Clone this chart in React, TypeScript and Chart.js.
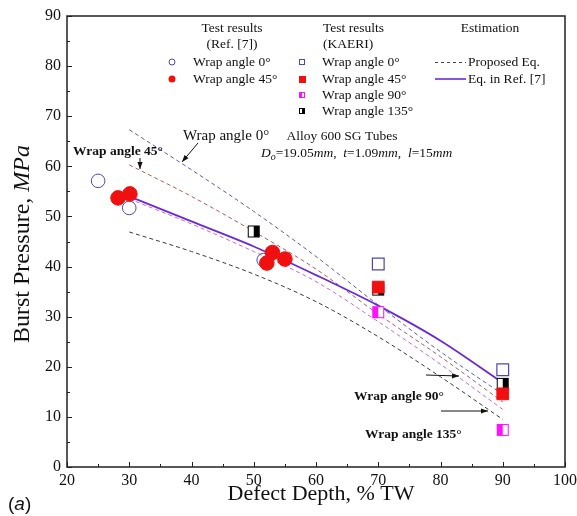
import { useEffect, useRef } from 'react';
import { Chart, registerables } from 'chart.js';

Chart.register(...registerables);

const SERIF = '"Liberation Serif", "Times New Roman", serif';
const SANS = '"Liberation Sans", Arial, sans-serif';

// Test results, Ref. [7]
const refDepth0 = [25, 30, 51.6];
const refBurst0 = [57.1, 51.7, 41.3];
const refDepth45 = [28.2, 30.1, 52.1, 53.0, 55.0];
const refBurst45 = [53.7, 54.5, 40.7, 42.8, 41.5];

// Test results, KAERI
const kaeriDepth0 = [70, 90];
const kaeriBurst0 = [40.5, 19.4];
const kaeriDepth45 = [70, 90];
const kaeriBurst45 = [35.9, 14.6];
const kaeriDepth90 = [70, 90];
const kaeriBurst90 = [30.9, 7.4];
const kaeriDepth135 = [50, 70, 90];
const kaeriBurst135 = [47.0, 35.4, 16.6];

// Estimation curves
const curveDepth = [30, 40, 50, 60, 70, 80, 90];
const eqRef7 = [54.0, 49.0, 44.0, 38.3, 32.2, 25.2, 16.8];
const proposed0 = [67.3, 59.3, 51.0, 42.0, 32.3, 23.0, 14.5];
const proposed45 = [60.3, 54.0, 47.0, 39.5, 30.5, 22.0, 13.0];
const proposed90 = [53.5, 48.5, 43.0, 37.0, 29.0, 20.5, 11.5];
const proposed135 = [46.9, 43.0, 38.5, 33.0, 26.0, 18.0, 9.5];

// Axis ranges
const xRange = [20, 100];
const yRange = [0, 90];

const BLUE = '#4f47b0';
const RED = '#f01010';
const MAGENTA = '#ff10ff';
const PURPLE = '#6a2ad8';

const pts = (xs: number[], ys: number[]) => xs.map((x, i) => ({ x, y: ys[i] }));

function halfSquare(color: string, filled: 'left' | 'right', side = 12) {
  const c = document.createElement('canvas');
  c.width = side + 2;
  c.height = side + 2;
  const g = c.getContext('2d')!;
  g.fillStyle = '#fff';
  g.fillRect(1, 1, side, side);
  g.fillStyle = color;
  const half = side / 2;
  g.fillRect(filled === 'left' ? 1 : 1 + half, 1, half, side);
  g.strokeStyle = color;
  g.lineWidth = 1;
  g.strokeRect(1.5, 1.5, side - 1, side - 1);
  return c;
}

type Run = [string, string, number?];

function drawRuns(ctx: CanvasRenderingContext2D, runs: Run[], x: number, y: number, align: 'left' | 'center' = 'left') {
  ctx.textAlign = 'left';
  let total = 0;
  runs.forEach((r) => {
    ctx.font = r[1];
    total += ctx.measureText(r[0]).width;
  });
  let cx = align === 'center' ? x - total / 2 : x;
  runs.forEach((r) => {
    ctx.font = r[1];
    ctx.fillText(r[0], cx, y + (r[2] || 0));
    cx += ctx.measureText(r[0]).width;
  });
}

function arrow(ctx: CanvasRenderingContext2D, x1: number, y1: number, x2: number, y2: number) {
  ctx.beginPath();
  ctx.moveTo(x1, y1);
  ctx.lineTo(x2, y2);
  ctx.stroke();
  const ang = Math.atan2(y2 - y1, x2 - x1);
  const L = 7;
  const W = 2.6;
  ctx.beginPath();
  ctx.moveTo(x2, y2);
  ctx.lineTo(x2 - L * Math.cos(ang) + W * Math.sin(ang), y2 - L * Math.sin(ang) - W * Math.cos(ang));
  ctx.lineTo(x2 - L * Math.cos(ang) - W * Math.sin(ang), y2 - L * Math.sin(ang) + W * Math.cos(ang));
  ctx.closePath();
  ctx.fill();
}

export default function App() {
  const ref = useRef<HTMLCanvasElement | null>(null);

  useEffect(() => {
    if (!ref.current) return;
    const mag = halfSquare(MAGENTA, 'left');
    const blk = halfSquare('#000', 'right');
    const magSmall = halfSquare(MAGENTA, 'left', 6);
    const blkSmall = halfSquare('#000', 'right', 6);

    const curve = (ys: number[], color: string, dashed: boolean, order: number) => ({
      data: pts(curveDepth, ys),
      showLine: true,
      borderColor: color,
      borderWidth: dashed ? 1 : 1.8,
      borderDash: dashed ? [4, 3] : [],
      pointRadius: 0,
      cubicInterpolationMode: 'monotone' as const,
      order,
    });

    const overlay = {
      id: 'overlay',
      afterDraw(chart: any) {
        const { ctx, chartArea: a, scales } = chart;
        const xs = scales.x;
        const ys = scales.y;
        ctx.save();
        // frame
        ctx.strokeStyle = '#222';
        ctx.lineWidth = 1.5;
        ctx.strokeRect(a.left, a.top, a.right - a.left, a.bottom - a.top);
        // inward tick marks
        ctx.lineWidth = 1;
        ctx.beginPath();
        for (let v = xRange[0]; v <= xRange[1]; v += 5) {
          const px = Math.round(xs.getPixelForValue(v)) + 0.5;
          const len = v % 10 === 0 ? 5 : 3;
          ctx.moveTo(px, a.bottom);
          ctx.lineTo(px, a.bottom - len);
        }
        for (let v = yRange[0]; v <= yRange[1]; v += 5) {
          const py = Math.round(ys.getPixelForValue(v)) + 0.5;
          const len = v % 10 === 0 ? 5 : 3;
          ctx.moveTo(a.left, py);
          ctx.lineTo(a.left + len, py);
        }
        ctx.stroke();

        ctx.fillStyle = '#111';
        ctx.textBaseline = 'middle';

        // axis titles
        drawRuns(ctx, [['Defect Depth, % TW', `22px ${SERIF}`]], 321, 494, 'center');
        ctx.save();
        ctx.translate(23, 244);
        ctx.rotate(-Math.PI / 2);
        drawRuns(ctx, [['Burst Pressure, ', `24px ${SERIF}`], ['MPa', `italic 24px ${SERIF}`]], 0, 0, 'center');
        ctx.restore();

        drawRuns(ctx, [['(', `19px ${SANS}`], ['a', `italic 19px ${SANS}`], [')', `19px ${SANS}`]], 8, 505);

        // legend
        const lf = `13.5px ${SERIF}`;
        drawRuns(ctx, [['Test results', lf]], 232, 28, 'center');
        drawRuns(ctx, [['(Ref. [7])', lf]], 232, 44, 'center');
        drawRuns(ctx, [['Test results', lf]], 323, 28);
        drawRuns(ctx, [['(KAERI)', lf]], 323, 44);
        drawRuns(ctx, [['Estimation', lf]], 490, 28, 'center');

        const rows = [62, 79, 95, 111];
        drawRuns(ctx, [['Wrap angle 0°', lf]], 193, rows[0]);
        drawRuns(ctx, [['Wrap angle 45°', lf]], 193, rows[1]);
        drawRuns(ctx, [['Wrap angle 0°', lf]], 322, rows[0]);
        drawRuns(ctx, [['Wrap angle 45°', lf]], 322, rows[1]);
        drawRuns(ctx, [['Wrap angle 90°', lf]], 322, rows[2]);
        drawRuns(ctx, [['Wrap angle 135°', lf]], 322, rows[3]);
        drawRuns(ctx, [['Proposed Eq.', lf]], 468, rows[0]);
        drawRuns(ctx, [['Eq. in Ref. [7]', lf]], 468, rows[1]);

        ctx.strokeStyle = BLUE;
        ctx.lineWidth = 1;
        ctx.beginPath();
        ctx.arc(172, rows[0], 3, 0, Math.PI * 2);
        ctx.stroke();
        ctx.fillStyle = RED;
        ctx.beginPath();
        ctx.arc(172, rows[1], 3.5, 0, Math.PI * 2);
        ctx.fill();

        ctx.fillStyle = '#fff';
        ctx.fillRect(299, rows[0] - 3, 6, 6);
        ctx.strokeStyle = BLUE;
        ctx.strokeRect(299.5, rows[0] - 2.5, 5, 5);
        ctx.fillStyle = RED;
        ctx.fillRect(299, rows[1] - 3, 7, 7);
        ctx.drawImage(magSmall, 298, rows[2] - 4);
        ctx.drawImage(blkSmall, 298, rows[3] - 4);

        ctx.strokeStyle = '#444';
        ctx.lineWidth = 1;
        ctx.setLineDash([3, 3]);
        ctx.beginPath();
        ctx.moveTo(435, rows[0] + 0.5);
        ctx.lineTo(466, rows[0] + 0.5);
        ctx.stroke();
        ctx.setLineDash([]);
        ctx.strokeStyle = PURPLE;
        ctx.lineWidth = 1.6;
        ctx.beginPath();
        ctx.moveTo(435, rows[1]);
        ctx.lineTo(466, rows[1]);
        ctx.stroke();

        // curve annotations
        ctx.fillStyle = '#111';
        ctx.strokeStyle = '#111';
        ctx.lineWidth = 1;
        drawRuns(ctx, [['Wrap angle 0°', `15px ${SERIF}`]], 183, 136);
        arrow(ctx, 198, 143, 182, 162);
        drawRuns(ctx, [['Wrap angle 45°', `bold 13.5px ${SERIF}`]], 73, 152);
        arrow(ctx, 140, 158, 140, 169);
        drawRuns(ctx, [['Wrap angle 90°', `bold 13.5px ${SERIF}`]], 354, 397);
        arrow(ctx, 426, 375, 459, 376);
        drawRuns(ctx, [['Wrap angle 135°', `bold 13.5px ${SERIF}`]], 365, 435);
        arrow(ctx, 441, 411, 488, 411);

        // specimen description
        const nf = `13.5px ${SERIF}`;
        const itf = `italic 13.5px ${SERIF}`;
        drawRuns(ctx, [['Alloy 600 SG Tubes', nf]], 342, 136, 'center');
        drawRuns(
          ctx,
          [
            ['D', itf],
            ['o', `italic 10px ${SERIF}`, 4],
            ['=19.05', nf],
            ['mm', itf],
            [',  ', nf],
            ['t', itf],
            ['=1.09', nf],
            ['mm', itf],
            [',  ', nf],
            ['l', itf],
            ['=15', nf],
            ['mm', itf],
          ],
          261,
          153,
        );
        ctx.restore();
      },
    };

    const chart = new Chart(ref.current, {
      type: 'scatter',
      data: {
        datasets: [
          {
            data: pts(refDepth45, refBurst45),
            pointStyle: 'circle',
            pointRadius: 7.3,
            backgroundColor: RED,
            borderColor: RED,
            borderWidth: 1,
            order: 1,
          },
          {
            data: pts(refDepth0, refBurst0),
            pointStyle: 'circle',
            pointRadius: 6.8,
            backgroundColor: 'rgba(255,255,255,0)',
            borderColor: BLUE,
            borderWidth: 1,
            order: 2,
          },
          {
            data: pts(kaeriDepth0, kaeriBurst0),
            pointStyle: 'rect',
            pointRadius: 8.3,
            backgroundColor: '#fff',
            borderColor: BLUE,
            borderWidth: 1.2,
            order: 3,
          },
          {
            data: pts(kaeriDepth45, kaeriBurst45),
            pointStyle: 'rect',
            pointRadius: 8.3,
            backgroundColor: RED,
            borderColor: RED,
            borderWidth: 1,
            order: 4,
          },
          {
            data: pts(kaeriDepth90, kaeriBurst90),
            pointStyle: mag,
            pointRadius: 6,
            order: 5,
          },
          {
            data: pts(kaeriDepth135, kaeriBurst135),
            pointStyle: blk,
            pointRadius: 6,
            order: 6,
          },
          curve(eqRef7, PURPLE, false, 7),
          curve(proposed0, '#5a5ab0', true, 8),
          curve(proposed45, '#b05a5a', true, 9),
          curve(proposed90, '#c868d0', true, 10),
          curve(proposed135, '#3a3a3a', true, 11),
        ] as any,
      },
      options: {
        animation: false,
        responsive: false,
        devicePixelRatio: 1,
        layout: { padding: { top: 16, right: 12, left: 0, bottom: 0 } },
        plugins: { legend: { display: false }, tooltip: { enabled: false } },
        scales: {
          x: {
            type: 'linear',
            min: xRange[0],
            max: xRange[1],
            grid: { display: false, drawTicks: false },
            border: { display: false },
            ticks: { stepSize: 10, color: '#111', padding: 4, font: { family: SERIF, size: 16 } },
            afterFit: (s: any) => {
              s.height = 49;
              s.paddingLeft = 0;
              s.paddingRight = 0;
            },
          },
          y: {
            type: 'linear',
            min: yRange[0],
            max: yRange[1],
            grid: { display: false, drawTicks: false },
            border: { display: false },
            ticks: { stepSize: 10, color: '#111', padding: 6, font: { family: SERIF, size: 16 } },
            afterFit: (s: any) => {
              s.width = 67;
              s.paddingTop = 0;
              s.paddingBottom = 0;
            },
          },
        },
      },
      plugins: [overlay],
    });
    return () => chart.destroy();
  }, []);

  return (
    <div style={{ position: 'absolute', left: 0, top: 0, width: 577, height: 516, background: '#fff' }}>
      <canvas ref={ref} width={577} height={516} />
    </div>
  );
}
